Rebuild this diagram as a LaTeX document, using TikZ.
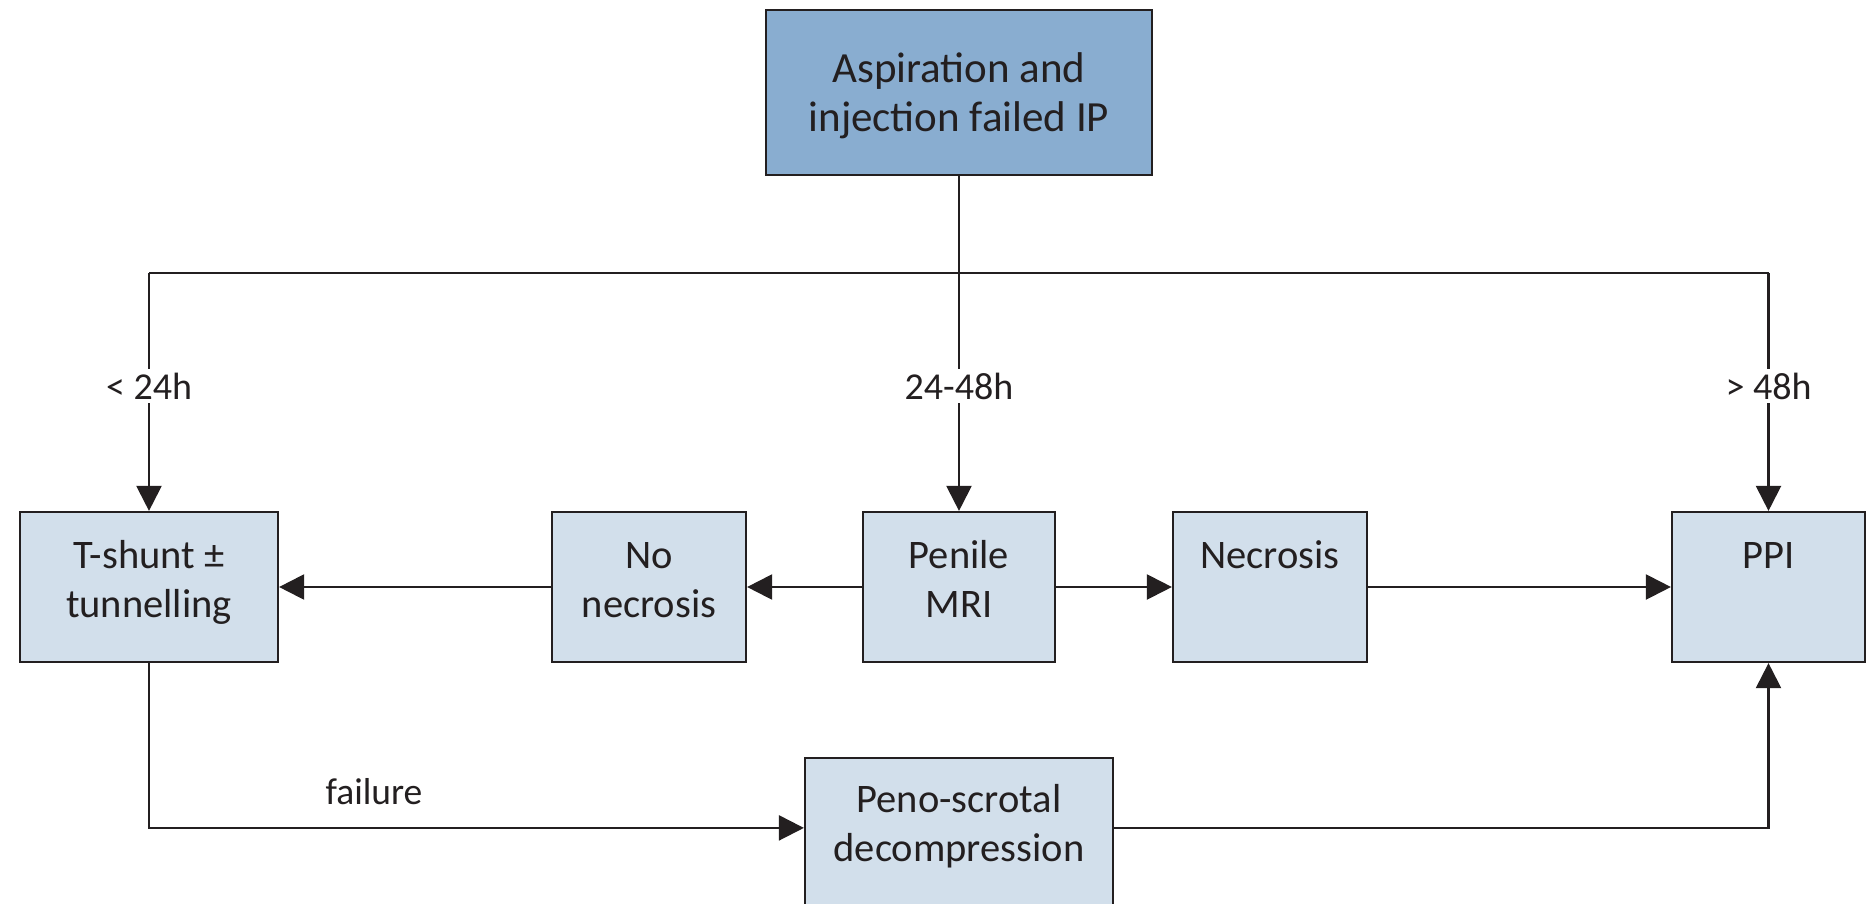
\documentclass[tikz,border=0pt]{standalone}
\usepackage{fontspec}
\setmainfont{Carlito}
\usetikzlibrary{arrows.meta,calc}
\definecolor{topblue}{RGB}{137,173,208}
\definecolor{lightblue}{RGB}{210,223,235}
\definecolor{linegray}{RGB}{35,31,32}
\tikzset{
  box/.style={draw=linegray, line width=2.2pt, fill=lightblue, inner sep=0pt},
  boxtext/.style={anchor=base, align=center, font=\fontsize{40.5}{49}\selectfont, text=linegray, inner sep=0pt},
  lbl/.style={fill=white, font=\fontsize{38}{44}\selectfont, text=linegray, inner sep=4pt},
  conn/.style={draw=linegray, line width=2.2pt},
  arr/.style={conn, -{Triangle[length=25pt,width=25pt]}}
}
\begin{document}
\begin{tikzpicture}[x=1pt,y=-1pt]
\useasboundingbox (0,0) rectangle (1875,903);
% top box
\node[box, fill=topblue, minimum width=386pt, minimum height=165pt] (top) at (959,92.5) {};
\node[boxtext, font=\fontsize{43}{49}\selectfont] (toptext) at (959,131) {Aspiration and\\injection failed IP};
% row boxes
\node[box, minimum width=258pt, minimum height=150pt] (tsh) at (149,587) {};
\node[box, minimum width=194pt, minimum height=150pt] (nonec) at (649,587) {};
\node[box, minimum width=192pt, minimum height=150pt] (mri) at (959,587) {};
\node[box, minimum width=194pt, minimum height=150pt] (nec) at (1270,587) {};
\node[box, minimum width=193pt, minimum height=150pt] (ppi) at (1768.5,587) {};
\node[box, minimum width=308pt, minimum height=170pt] (peno) at (959,843) {};
% texts
\node[boxtext] (tshtext) at (149,617) {T-shunt ±\\tunnelling};
\node[boxtext] (nonectext) at (649,617) {No\\necrosis};
\node[boxtext] (mritext) at (959,617) {Penile\\MRI};
\node[boxtext] (nectext) at (1270,568) {Necrosis};
\node[boxtext] (ppitext) at (1768.5,568) {PPI};
\node[boxtext] (penotext) at (959,861) {Peno-scrotal\\decompression};
% tree
\coordinate (split) at (959,273);
\coordinate (lc) at (149,273);
\coordinate (rc) at (1768.5,273);
\draw[conn] (top.south) -- (split);
\draw[conn] (lc) -- (rc);
\draw[arr] (lc) -- (tsh.north);
\draw[arr] (split) -- (mri.north);
\draw[arr] (rc) -- (ppi.north);
\node[lbl] (l1) at (149,386) {< 24h};
\node[lbl] (l2) at (959,386) {24-48h};
\node[lbl] (l3) at (1768.5,386) {> 48h};
% horizontal
\draw[arr] (mri.west) -- (nonec.east);
\draw[arr] (nonec.west) -- (tsh.east);
\draw[arr] (mri.east) -- (nec.west);
\draw[arr] (nec.east) -- (ppi.west);
% bottom
\draw[arr] (tsh.south) |- ($(peno.north west)+(0,71)$);
\draw[arr] ($(peno.north east)+(0,71)$) -| (ppi.south);
\node[font=\fontsize{37.5}{44}\selectfont, text=linegray, inner sep=0pt] (fail) at (374,792) {failure};
\end{tikzpicture}
\end{document}
